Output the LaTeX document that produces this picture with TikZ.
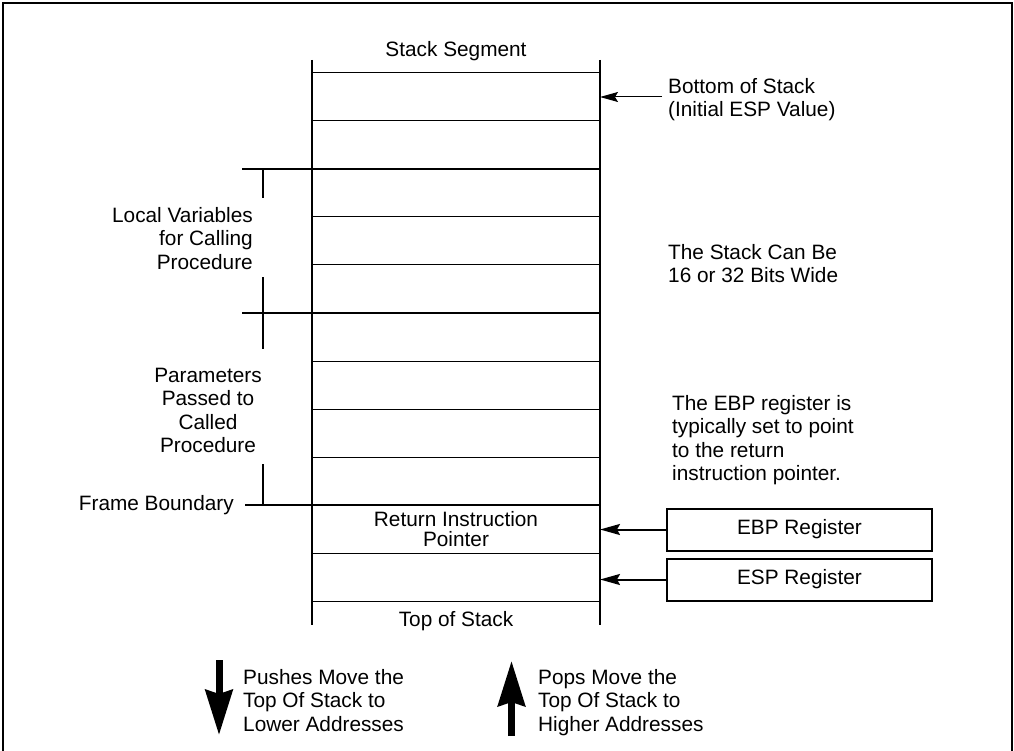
\documentclass[tikz,border=0pt]{standalone}
\usepackage{fontspec}
\setmainfont{Liberation Sans}
\usetikzlibrary{arrows.meta}
\newcommand{\mystrutA}{\rule{0pt}{16pt}}
\begin{document}
\begin{tikzpicture}[x=1pt,y=-1pt,
  txt/.style={inner sep=0pt,font=\fontsize{20.8}{23.5}\selectfont},
  cellline/.style={line width=1pt},
  heavyline/.style={line width=1.8pt},
  stackside/.style={line width=2pt},
  regbox/.style={draw,line width=2pt,minimum width=265pt,minimum height=42pt,inner sep=0pt,font=\fontsize{20.8}{23.5}\selectfont},
  ptr/.style={line width=2pt,-{Stealth[length=20pt,width=11pt,inset=3pt]}},
  thinptr/.style={line width=1pt,-{Stealth[length=18pt,width=10pt,inset=3pt]}},
  bigarrow/.style={line width=7pt,-{Stealth[length=45pt,width=27pt,inset=4pt]}}
]
\useasboundingbox (0,0) rectangle (1014,751);
% outer frame
\draw[line width=2pt] (3,751) -- (3,3) -- (1012,3) -- (1012,751);

% stack columns
\coordinate (ltop) at (312,60);
\coordinate (lbot) at (312,625);
\coordinate (rtop) at (600,60);
\coordinate (rbot) at (600,625);
\draw[stackside] (ltop) -- (lbot);
\draw[stackside] (rtop) -- (rbot);

% thin cell lines
\foreach \yy in {73,121,217,265,361,409,457,553,601}
  \draw[cellline] (312,\yy) -- (600,\yy);
% thick frame lines
\draw[heavyline] (242,169) -- (600,169);
\draw[heavyline] (242,313) -- (600,313);
\draw[heavyline] (245,505) -- (600,505);

% bracket ticks
\draw[heavyline] (263,169) -- (263,198);
\draw[heavyline] (263,277) -- (263,349);
\draw[heavyline] (263,464) -- (263,505);

% texts
\node[txt,anchor=base] (segtitle) at (456,57) {Stack Segment};
\node[txt,anchor=north west,align=left] (bottomtxt) at (668,77) {\mystrutA Bottom of Stack\\(Initial ESP Value)};
\node[txt,anchor=north east,align=right] (localvars) at (253,206) {\mystrutA Local Variables\\for Calling\\Procedure};
\node[txt,anchor=north west,align=left] (stackwide) at (668,243) {\mystrutA The Stack Can Be\\16 or 32 Bits Wide};
\node[txt,anchor=north,align=center] (params) at (208,366) {\mystrutA Parameters\\Passed to\\Called\\Procedure};
\node[txt,anchor=north west,align=left] (ebptxt) at (672,394) {\mystrutA The EBP register is\\typically set to point\\to the return\\instruction pointer.};
\node[txt,anchor=base east] (frameb) at (234,510) {Frame Boundary};
\node[txt,anchor=north,align=center,font=\fontsize{20.8}{20}\selectfont] (rip) at (456,510) {\mystrutA Return Instruction\\Pointer};
\node[txt,anchor=base] (tos) at (456,626) {Top of Stack};
\node[txt,anchor=north west,align=left] (pushes) at (243,668) {\mystrutA Pushes Move the\\Top Of Stack to\\Lower Addresses};
\node[txt,anchor=north west,align=left] (pops) at (538,668) {\mystrutA Pops Move the\\Top Of Stack to\\Higher Addresses};

% registers
\node[regbox] (ebp) at (799.5,529.5) {EBP Register};
\node[regbox] (esp) at (799.5,579.5) {ESP Register};
\draw[ptr] (ebp.west) -- (ebp.west -| rtop);
\draw[ptr] (esp.west) -- (esp.west -| rtop);

% bottom of stack pointer
\coordinate (bsA) at (662,97);
\draw[thinptr] (bsA) -- (bsA -| rtop);

% push / pop arrows
\coordinate (pushA) at (219,660);
\coordinate (pushB) at (219,735);
\draw[bigarrow] (pushA) -- (pushB);
\coordinate (popA) at (511.5,736);
\coordinate (popB) at (511.5,661);
\draw[bigarrow] (popA) -- (popB);
\end{tikzpicture}
\end{document}
